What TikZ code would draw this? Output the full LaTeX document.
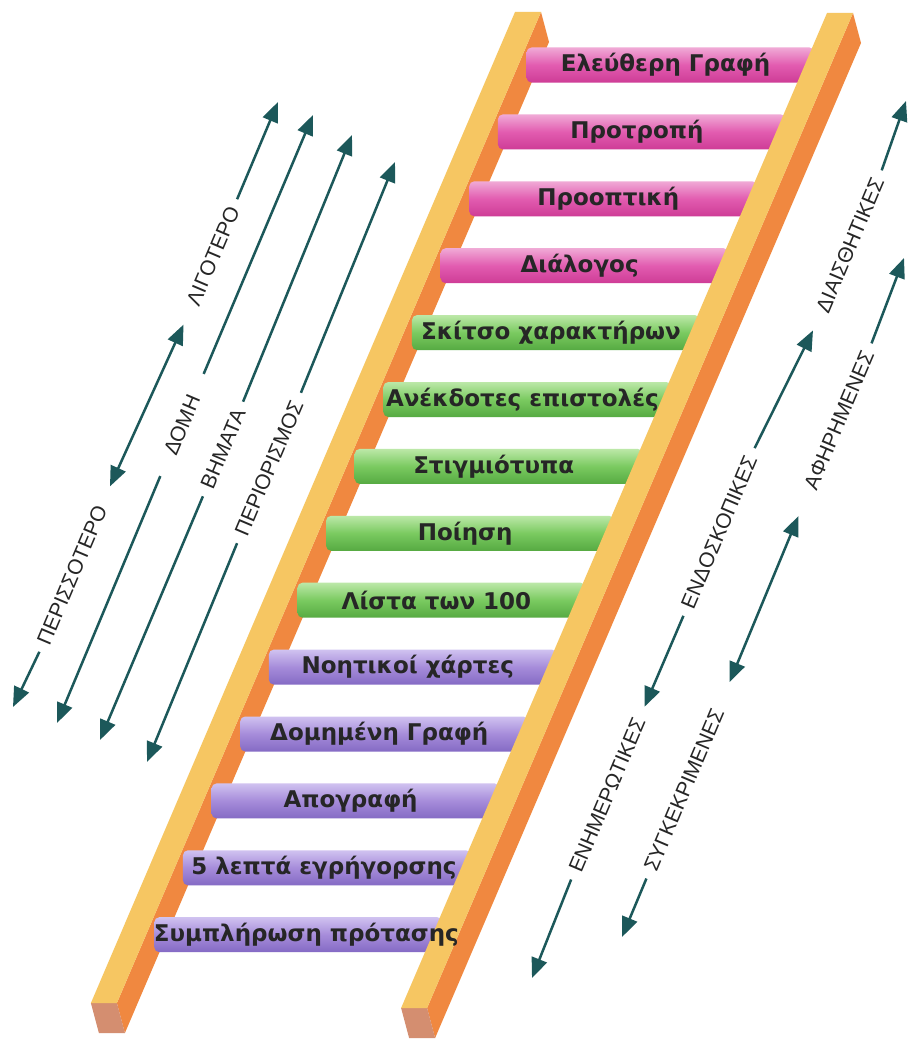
\documentclass[tikz,border=0pt]{standalone}
\usepackage{fontspec}
\usetikzlibrary{arrows.meta}
\newfontfamily\rungfont{DejaVu Sans}
\newfontfamily\tagfont{Liberation Sans}
\definecolor{railyellow}{RGB}{246,198,98}
\definecolor{railorange}{RGB}{240,136,64}
\definecolor{railend}{RGB}{212,142,112}
\definecolor{arrowteal}{RGB}{28,88,90}
\definecolor{pinktop}{RGB}{240,170,214}
\definecolor{pinkmid}{RGB}{226,92,176}
\definecolor{pinkbot}{RGB}{206,60,150}
\definecolor{greentop}{RGB}{188,232,168}
\definecolor{greenmid}{RGB}{122,202,96}
\definecolor{greenbot}{RGB}{86,170,66}
\definecolor{purpletop}{RGB}{208,194,240}
\definecolor{purplemid}{RGB}{166,140,218}
\definecolor{purplebot}{RGB}{132,106,196}

\begin{document}
\begin{tikzpicture}[x=1pt, y=-1pt, >={Triangle[length=20pt,width=16pt]}, node distance=66.9pt]
    \tikzstyle{rung} = [rectangle, rounded corners=5pt, minimum width=288pt, minimum height=35pt, inner sep=0pt]
    \tikzstyle{pinkrung} = [rung, top color=pinktop, bottom color=pinkbot, middle color=pinkmid]
    \tikzstyle{greenrung} = [rung, top color=greentop, bottom color=greenbot, middle color=greenmid]
    \tikzstyle{purplerung} = [rung, top color=purpletop, bottom color=purplebot, middle color=purplemid]
    \tikzstyle{word} = [font=\rungfont\bfseries\fontsize{23}{23}\selectfont, text=black!85, inner sep=0pt]
    \tikzstyle{tag} = [font=\tagfont\fontsize{21}{21}\selectfont, text=black!85, rotate=67, inner xsep=9pt, inner ysep=2pt]
    \tikzstyle{arr} = [->, draw=arrowteal, fill=arrowteal, line width=2.5pt]

    \useasboundingbox (0,0) rectangle (911,1041);
    \fill[white] (0,0) rectangle (911,1041);

    % Left rail
    \fill[railorange] (541,12) -- (549,42) -- (124.9,1033) -- (116.9,1003) -- cycle;
    \fill[railend] (90.9,1003) -- (116.9,1003) -- (124.9,1033) -- (98.9,1033) -- cycle;
    \fill[railyellow] (515,12) -- (541,12) -- (116.9,1003) -- (90.9,1003) -- cycle;

    % Rungs
    \node[pinkrung] (R1) at (670.5,65) {};
    \node[pinkrung] (R2) [below of=R1, xshift=-28.63pt] {};
    \node[pinkrung] (R3) [below of=R2, xshift=-28.63pt] {};
    \node[pinkrung] (R4) [below of=R3, xshift=-28.63pt] {};
    \node[greenrung] (R5) [below of=R4, xshift=-28.63pt] {};
    \node[greenrung] (R6) [below of=R5, xshift=-28.63pt] {};
    \node[greenrung] (R7) [below of=R6, xshift=-28.63pt] {};
    \node[greenrung] (R8) [below of=R7, xshift=-28.63pt] {};
    \node[greenrung] (R9) [below of=R8, xshift=-28.63pt] {};
    \node[purplerung] (R10) [below of=R9, xshift=-28.63pt] {};
    \node[purplerung] (R11) [below of=R10, xshift=-28.63pt] {};
    \node[purplerung] (R12) [below of=R11, xshift=-28.63pt] {};
    \node[purplerung] (R13) [below of=R12, xshift=-28.63pt] {};
    \node[purplerung] (R14) [below of=R13, xshift=-28.63pt] {};

    % Right rail
    \fill[railorange] (853,13) -- (861,43) -- (435.1,1038) -- (427.1,1008) -- cycle;
    \fill[railend] (401.1,1008) -- (427.1,1008) -- (435.1,1038) -- (409.1,1038) -- cycle;
    \fill[railyellow] (827,13) -- (853,13) -- (427.1,1008) -- (401.1,1008) -- cycle;

    % Rung labels
    \node[word] (T1) at ([xshift=-5pt]R1.center) {Ελεύθερη Γραφή};
    \node[word] (T2) at ([xshift=-5pt]R2.center) {Προτροπή};
    \node[word] (T3) at ([xshift=-5pt]R3.center) {Προοπτική};
    \node[word] (T4) at ([xshift=-5pt]R4.center) {Διάλογος};
    \node[word] (T5) at ([xshift=-5pt]R5.center) {Σκίτσο χαρακτήρων};
    \node[word] (T6) at ([xshift=-5pt]R6.center) {Ανέκδοτες επιστολές};
    \node[word] (T7) at ([xshift=-5pt]R7.center) {Στιγμιότυπα};
    \node[word] (T8) at ([xshift=-5pt]R8.center) {Ποίηση};
    \node[word] (T9) at ([xshift=-5pt]R9.center) {Λίστα των 100};
    \node[word] (T10) at ([xshift=-5pt]R10.center) {Νοητικοί χάρτες};
    \node[word] (T11) at ([xshift=-5pt]R11.center) {Δομημένη Γραφή};
    \node[word] (T12) at ([xshift=-5pt]R12.center) {Απογραφή};
    \node[word] (T13) at ([xshift=-3pt]R13.center) {5 λεπτά εγρήγορσης};
    \node[word] (T14) at ([xshift=8pt]R14.center) {Συμπλήρωση πρότασης};

    % Arrow ends
    \coordinate (up1) at (278,102);
    \coordinate (down1) at (13,707);
    \coordinate (up2) at (313,115);
    \coordinate (down2) at (57,723);
    \coordinate (up3) at (352,135);
    \coordinate (down3) at (100,740);
    \coordinate (up4) at (395,162);
    \coordinate (down4) at (147,762);
    \coordinate (upA) at (906,101);
    \coordinate (downA) at (532,978);
    \coordinate (upB) at (904,258);
    \coordinate (downB) at (622,937);

    % Scale labels
    \node[tag] (less) at (213,256) {ΛΙΓΟΤΕΡΟ};
    \node[tag] (more) at (72,575) {ΠΕΡΙΣΣΟΤΕΡΟ};
    \node[tag, inner xsep=24pt] (struct) at (182,425) {ΔΟΜΗ};
    \node[tag] (steps) at (223,449) {ΒΗΜΑΤΑ};
    \node[tag] (limit) at (269,468) {ΠΕΡΙΟΡΙΣΜΟΣ};
    \node[tag] (intuit) at (850,245) {ΔΙΑΙΣΘΗΤΙΚΕΣ};
    \node[tag] (intro) at (719,532) {ΕΝΔΟΣΚΟΠΙΚΕΣ};
    \node[tag] (inform) at (607,795) {ΕΝΗΜΕΡΩΤΙΚΕΣ};
    \node[tag] (abstr) at (839,420) {ΑΦΗΡΗΜΕΝΕΣ};
    \node[tag] (concr) at (684,790) {ΣΥΓΚΕΚΡΙΜΕΝΕΣ};

    % Edges
    \draw[arr] (less.east) -- (up1);
    \draw[arr, <->, shorten <=13pt, shorten >=13pt] (less.west) -- (more.east);
    \draw[arr] (more.west) -- (down1);
    \draw[arr] (struct.east) -- (up2);
    \draw[arr] (struct.west) -- (down2);
    \draw[arr] (steps.east) -- (up3);
    \draw[arr] (steps.west) -- (down3);
    \draw[arr] (limit.east) -- (up4);
    \draw[arr] (limit.west) -- (down4);
    \draw[arr] (intuit.east) -- (upA);
    \draw[arr, shorten >=12pt] (intro.east) -- (intuit.west);
    \draw[arr, shorten >=4pt] (intro.west) -- (inform.east);
    \draw[arr] (inform.west) -- (downA);
    \draw[arr] (abstr.east) -- (upB);
    \draw[arr, <->, shorten <=21pt, shorten >=21pt] (abstr.west) -- (concr.east);
    \draw[arr] (concr.west) -- (downB);

\end{tikzpicture}
\end{document}
